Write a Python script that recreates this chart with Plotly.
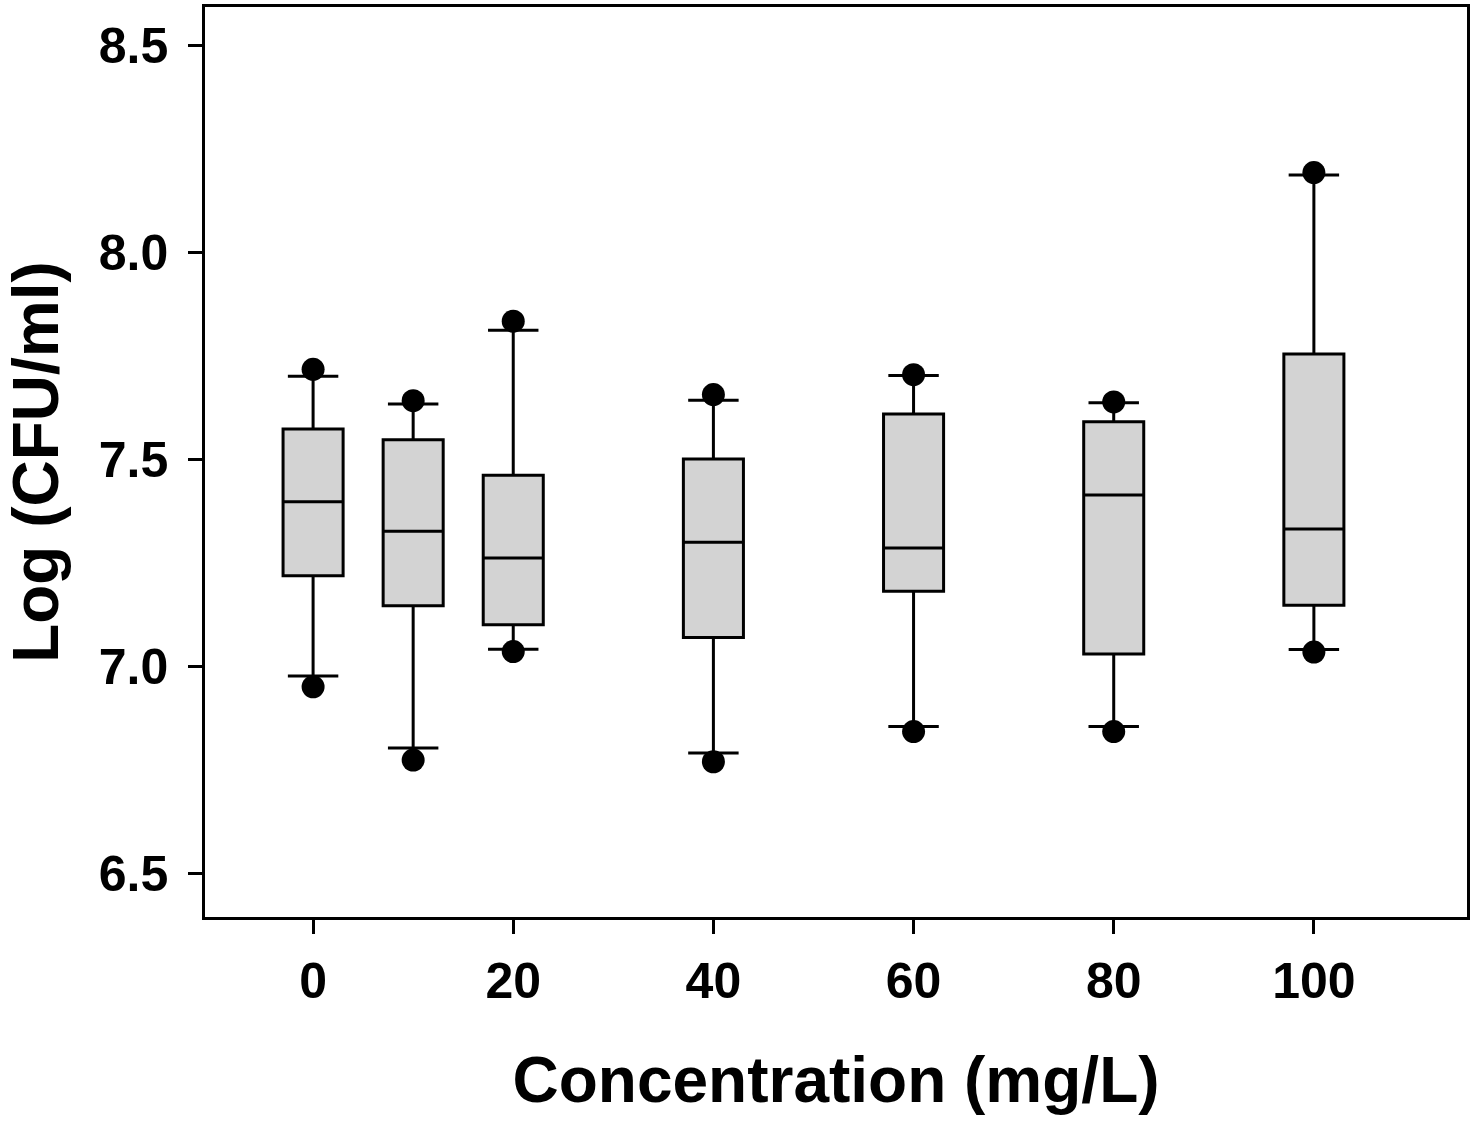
import plotly.graph_objects as go

# Concentration groups (mg/L)
conc = [0, 10, 20, 40, 60, 80, 100]

# Box statistics, Log (CFU/ml)
q1 = [7.220, 7.148, 7.102, 7.071, 7.183, 7.031, 7.149]
median = [7.399, 7.328, 7.263, 7.301, 7.287, 7.415, 7.333]
q3 = [7.575, 7.549, 7.463, 7.502, 7.611, 7.592, 7.756]
whisker_low = [6.978, 6.804, 7.043, 6.792, 6.856, 6.856, 7.042]
whisker_high = [7.702, 7.635, 7.813, 7.644, 7.704, 7.638, 8.188]

# Outlying points (beyond whiskers)
pt_low = [6.952, 6.775, 7.037, 6.771, 6.844, 6.844, 7.036]
pt_high = [7.719, 7.643, 7.835, 7.658, 7.706, 7.640, 8.194]

x_ticks = [0, 20, 40, 60, 80, 100]
y_ticks = [6.5, 7.0, 7.5, 8.0, 8.5]

FONT = "Liberation Sans, Arial, sans-serif"

fig = go.Figure()

fig.add_trace(go.Box(
    x=conc,
    q1=q1, median=median, q3=q3,
    lowerfence=whisker_low, upperfence=whisker_high,
    width=6,
    whiskerwidth=0.84,
    fillcolor="#d3d3d3",
    line=dict(color="black", width=3),
    boxpoints=False,
    showlegend=False,
))

# outliers as black dots
fig.add_trace(go.Scatter(
    x=conc + conc,
    y=pt_low + pt_high,
    mode="markers",
    marker=dict(symbol="circle", size=23, color="black"),
    showlegend=False,
    cliponaxis=False,
))

fig.update_layout(
    width=1476, height=1121,
    margin=dict(l=205, r=9, t=4, b=204),
    plot_bgcolor="white",
    paper_bgcolor="white",
    font=dict(family=FONT, color="black"),
)

fig.update_xaxes(
    range=[-10.8, 115.3],
    tickvals=x_ticks,
    ticktext=[str(v) for v in x_ticks],
    ticks="outside", ticklen=14, tickwidth=2.5, tickcolor="black",
    tickfont=dict(size=50, family=FONT, weight="bold"),
    ticklabelstandoff=4,
    showline=True, linecolor="black", linewidth=2.5, mirror=True,
    showgrid=False, zeroline=False,
    title=dict(text="Concentration (mg/L)", font=dict(size=64, family=FONT, weight="bold"), standoff=50),
)

fig.update_yaxes(
    range=[6.396, 8.594],
    tickvals=y_ticks,
    ticktext=[f"{v:.1f}" for v in y_ticks],
    ticks="outside", ticklen=14, tickwidth=2.5, tickcolor="black",
    tickfont=dict(size=50, family=FONT, weight="bold"),
    ticklabelstandoff=10,
    showline=True, linecolor="black", linewidth=2.5, mirror=True,
    showgrid=False, zeroline=False,
    title=dict(text="Log (CFU/ml)", font=dict(size=64, family=FONT, weight="bold"), standoff=36),
)

# drop the page's default body margin so the figure sits at the window corner
fig.write_html("out.html", config={"displayModeBar": False},
               post_script="document.body.style.margin='0';")
